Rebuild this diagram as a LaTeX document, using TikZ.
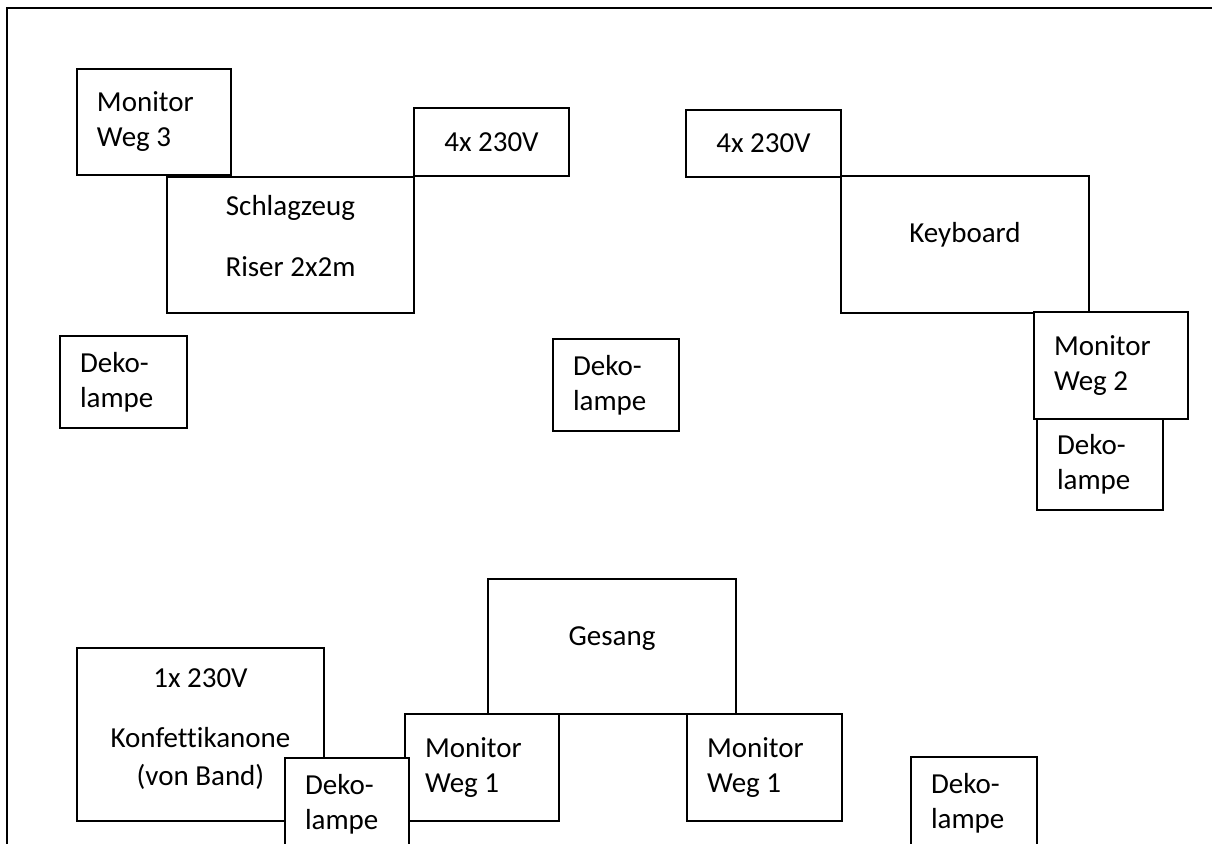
\documentclass[tikz,border=0pt]{standalone}
\usepackage{fontspec}
\setmainfont{Carlito}[Ligatures=NoCommon]

\begin{document}
\begin{tikzpicture}[
  x=0.5pt, y=-0.5pt,
  item/.style={
    rectangle,
    draw,
    fill=white,
    line width=1.2pt,
    inner sep=0pt,
    align=center,
    font=\fontsize{14.5pt}{17.5pt}\selectfont
  },
  tag/.style={
    item,
    align=flush left,
    inner xsep=10pt
  },
  wall/.style={
    line width=1.2pt
  }
]

\clip (0,0) rectangle (1212,843);

\draw[wall] (1230,8) -| (7,870);

\node[tag, text width=57pt, minimum height=53pt] (mon3) at (154,122) {Monitor\\Weg 3};
\node[item, minimum width=123.5pt, minimum height=68pt, text depth=9pt] (drums) at (290.5,245)
  {Schlagzeug\\[13pt]Riser 2x2m};
\node[item, minimum width=77.5pt, minimum height=34pt] (powerL) at (491.5,142) {4x 230V};
\node[item, minimum width=77.5pt, minimum height=33.5pt] (powerR) at (763.5,143.5) {4x 230V};
\node[item, minimum width=124pt, minimum height=68.5pt, text depth=12pt] (keys) at (965,244.5) {Keyboard};
\node[tag, text width=57pt, minimum height=53.5pt] (mon2) at (1111,365.5) {Monitor\\Weg 2};
\node[tag, text width=43pt, minimum height=45.5pt] (lampR) at (1100,464.5) {Deko-\\lampe};

\node[tag, text width=43.5pt, minimum height=46pt] (lampL) at (123.5,382) {Deko-\\lampe};
\node[tag, text width=43pt, minimum height=46pt] (lampM) at (616,385) {Deko-\\lampe};

\node[item, minimum width=124pt, minimum height=67.5pt, text depth=10pt] (vocals) at (612,646.5) {Gesang};
\node[item, minimum width=123.5pt, minimum height=86.5pt, text depth=7pt] (confetti) at (200.5,734.5)
  {1x 230V\\[12.5pt]Konfettikanone\\[1.5pt](von Band)};
\node[tag, text width=57pt, minimum height=53.5pt] (mon1L) at (482,767.5) {Monitor\\Weg 1};
\node[tag, text width=57.5pt, minimum height=53.5pt] (mon1R) at (764.5,767.5) {Monitor\\Weg 1};
\node[tag, text width=42pt, minimum height=46pt] (lampBL) at (347,804) {Deko-\\lampe};
\node[tag, text width=43pt, minimum height=46pt] (lampBR) at (974,803) {Deko-\\lampe};

\end{tikzpicture}
\end{document}
